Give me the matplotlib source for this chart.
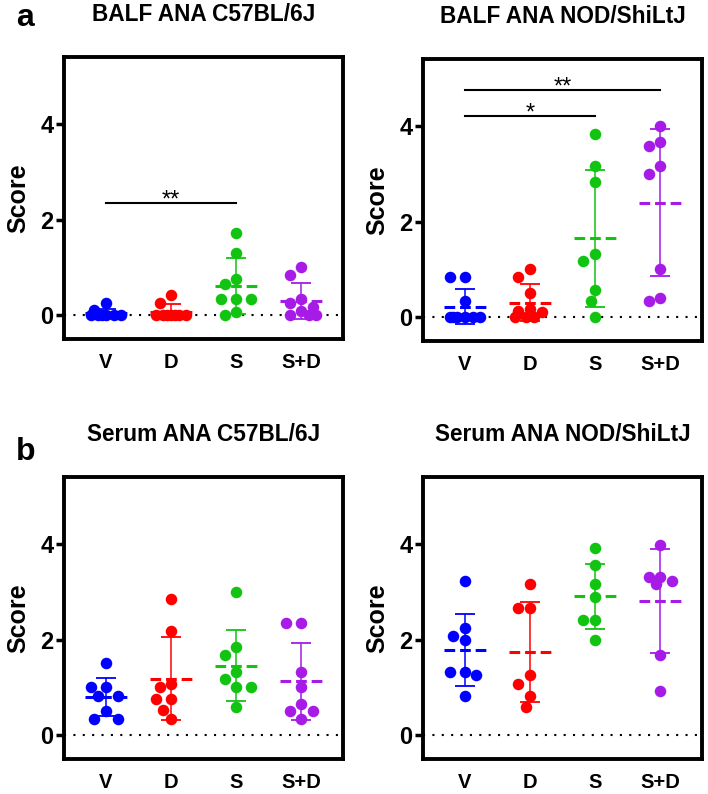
import numpy as np
import matplotlib.pyplot as plt

plt.rcParams["font.family"] = ["Liberation Sans", "DejaVu Sans"]
plt.rcParams["font.weight"] = "bold"

groups = ["V", "D", "S", "S+D"]
colors = ["#0000FF", "#FF0000", "#11C411", "#A61BE6"]

# BALF ANA C57BL/6J
balf_c57 = [
    [0.25, 0.1, 0, 0, 0, 0, 0, 0],
    [0.42, 0.25, 0, 0, 0, 0, 0, 0, 0],
    [1.73, 1.31, 0.75, 0.65, 0.33, 0.33, 0.33, 0.07, 0],
    [1.0, 0.83, 0.33, 0.25, 0.17, 0.08, 0, 0, 0],
]
# BALF ANA NOD/ShiLtJ
balf_nod = [
    [0.83, 0.83, 0.33, 0, 0, 0, 0, 0, 0],
    [1.0, 0.83, 0.5, 0.17, 0.12, 0.1, 0, 0, 0],
    [3.83, 3.17, 2.82, 1.32, 1.17, 0.57, 0.34, 0],
    [4.0, 3.66, 3.58, 3.17, 3.0, 1.0, 0.41, 0.34],
]
# Serum ANA C57BL/6J
serum_c57 = [
    [1.51, 1.0, 1.0, 0.83, 0.83, 0.5, 0.33, 0.33],
    [2.84, 2.19, 1.07, 1.0, 0.75, 0.75, 0.53, 0.33],
    [3.0, 1.84, 1.67, 1.33, 1.18, 1.0, 1.0, 0.58],
    [2.34, 2.34, 1.33, 1.0, 0.65, 0.5, 0.5, 0.33],
]
# Serum ANA NOD/ShiLtJ
serum_nod = [
    [3.23, 2.24, 2.07, 1.99, 1.33, 1.33, 1.25, 0.83],
    [3.16, 2.66, 2.66, 1.25, 1.08, 0.83, 0.59],
    [3.91, 3.56, 3.16, 2.9, 2.42, 2.42, 1.99],
    [3.99, 3.32, 3.32, 3.23, 3.16, 1.67, 0.92],
]

titles = ["BALF ANA C57BL/6J", "BALF ANA NOD/ShiLtJ",
          "Serum ANA C57BL/6J", "Serum ANA NOD/ShiLtJ"]
panels = [balf_c57, balf_nod, serum_c57, serum_nod]
# significance brackets: (group from, group to, height, label)
sig = [
    [(0, 2, 2.35, "**")],
    [(0, 2, 4.21, "*"), (0, 3, 4.75, "**")],
    [],
    [],
]

fig = plt.figure(figsize=(7.08, 7.94), dpi=100)
pos = [
    [0.090, 0.573, 0.395, 0.355],
    [0.597, 0.5705, 0.395, 0.355],
    [0.090, 0.044, 0.395, 0.355],
    [0.597, 0.044, 0.395, 0.355],
]

ms = 8.3
diam = ms * fig.dpi / 72


def swarm_x(ax, xc, vals, maxw=17):
    vals = np.asarray(vals, dtype=float)
    step = diam / 3
    kmax = int(maxw // step)
    cands = [0.0]
    for k in range(1, kmax + 1):
        cands += [-k * step, k * step]
    cx = ax.transData.transform((xc, 0))[0]
    placed = []
    out = np.zeros(len(vals))
    for i in np.argsort(-vals, kind="stable"):
        py = ax.transData.transform((xc, vals[i]))[1]
        best, bestd = cx, -1
        for off in cands:
            px = cx + off
            d = min((np.hypot(px - qx, py - qy) for qx, qy in placed), default=np.inf)
            if d >= diam:
                best = px
                break
            if d > bestd:
                best, bestd = px, d
        placed.append((best, py))
        out[i] = ax.transData.inverted().transform((best, py))[0]
    return out


for p, (data, title) in enumerate(zip(panels, titles)):
    ax = fig.add_axes(pos[p])
    ax.set_xlim(-0.65, 3.65)
    ax.set_ylim(-0.5, 5.4)
    ax.axhline(0, color="black", lw=1.5, ls=(0, (1, 3.5)), zorder=1)
    for g, vals in enumerate(data):
        c = colors[g]
        m = np.mean(vals)
        sd = np.std(vals, ddof=1)
        ax.errorbar(g, m, yerr=sd, color=c, lw=1.1, capsize=7.5, capthick=1.3,
                    zorder=2, fmt="none")
        ax.plot([g - 0.32, g + 0.32], [m, m], color=c, lw=2.2,
                ls=(0, (3.5, 1.6)), zorder=2)
        xs = swarm_x(ax, g, vals)
        ax.plot(xs, vals, "o", color=c, ms=ms, mec="none", zorder=3)
    for g0, g1, h, lab in sig[p]:
        ax.plot([g0, g1], [h, h], color="black", lw=1.5, zorder=2)
        ax.text((g0 + g1) / 2, h - 0.07, lab, ha="center", va="baseline",
                fontsize=17, fontweight="normal")

    ax.set_xticks(range(4))
    ax.set_xticklabels(groups, fontsize=14.5, fontweight="bold")
    ax.set_yticks([0, 2, 4])
    ax.set_yticklabels(["0", "2", "4"], fontsize=17, fontweight="bold")
    ax.tick_params(axis="x", length=0, pad=10)
    ax.tick_params(axis="y", length=6, width=2.5, pad=1.5)
    for s in ax.spines.values():
        s.set_linewidth(2.8)
    ax.set_ylabel("Score", fontsize=18, fontweight="bold", labelpad=7)
    ax.set_title(title, fontsize=16.3, fontweight="bold", pad=26)

fig.text(16 / 708, 1 - 26 / 794, "a", fontsize=23, fontweight="bold", va="baseline")
fig.text(16 / 708, 1 - 460 / 794, "b", fontsize=23, fontweight="bold", va="baseline")

fig.savefig("out.png", dpi=100)
